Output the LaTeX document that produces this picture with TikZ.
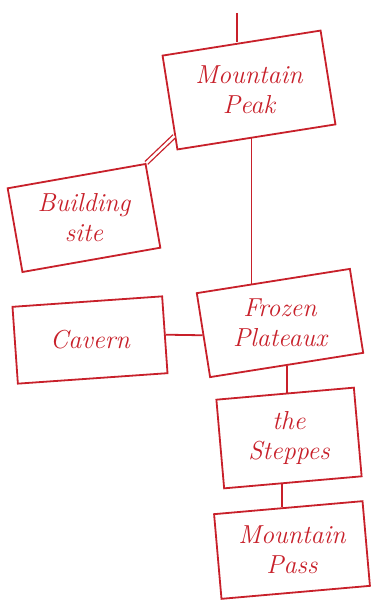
\documentclass[tikz,border=0pt]{standalone}
\usetikzlibrary{calc}
\definecolor{ink}{RGB}{200,32,42}
\tikzset{
  box/.style={draw=ink, line width=1.8pt, rectangle, inner sep=0pt},
  lbl/.style={align=center, text=ink, font=\fontsize{26}{30}\selectfont\itshape, inner sep=1pt},
  link/.style={draw=ink, line width=1.8pt},
}
\begin{document}
\begin{tikzpicture}[x=1pt,y=-1pt]
\useasboundingbox[fill=white] (0,0) rectangle (372,609);
\node[box, minimum width=160pt, minimum height=95pt, rotate=9] (peak) at (249,90) {};
\node[lbl] (peaktext) at (peak.center) {Mountain\\Peak};
\node[box, minimum width=140pt, minimum height=85pt, rotate=10] (building) at (84,218) {};
\node[lbl] (buildingtext) at (building.center) {Building\\site};
\node[box, minimum width=150pt, minimum height=77pt, rotate=4] (cavern) at (90,340) {};
\node[lbl] (caverntext) at (cavern.center) {Cavern};
\node[box, minimum width=155pt, minimum height=85pt, rotate=9] (frozen) at (280,323) {};
\node[lbl] (frozentext) at (frozen.center) {Frozen\\Plateaux};
\node[box, minimum width=138pt, minimum height=89pt, rotate=5] (steppes) at (289,438) {};
\node[lbl] (steppestext) at (steppes.center) {the\\Steppes};
\node[box, minimum width=149pt, minimum height=85pt, rotate=5] (pass) at (292,550) {};
\node[lbl] (passtext) at (pass.center) {Mountain\\Pass};
\coordinate (top) at (237,13);
\draw[link] (top) -- (top |- peak.north);
\coordinate (pf) at ($(frozen.north west)!0.36!(frozen.north east)$);
\draw[link] (pf |- peak.south) -- (pf);
\draw[draw=ink, line width=1.3pt, double=white, double distance=2.5pt] (building.north east) -- ($(peak.south west)!0.15!(peak.north west)$);
\draw[link] (cavern.east) -- (frozen.west);
\draw[link] (frozen.south) -- (frozen.south |- steppes.north);
\coordinate (sp) at ($(steppes.south west)!0.42!(steppes.south east)$);
\draw[link] (sp) -- (sp |- pass.north);
\end{tikzpicture}
\end{document}
